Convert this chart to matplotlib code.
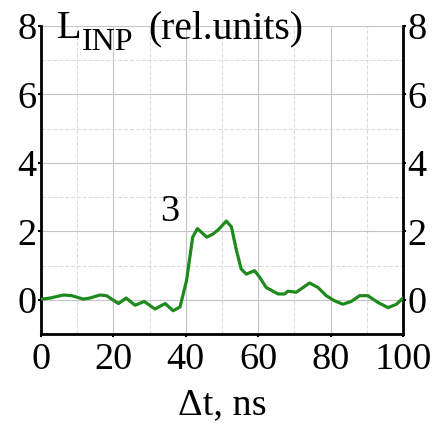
import matplotlib
matplotlib.use('Agg')
import matplotlib.pyplot as plt
from matplotlib.ticker import MultipleLocator

plt.rcParams['font.family'] = ['Liberation Serif', 'DejaVu Serif']

# signal
dt = [0.2, 2.5, 6.2, 8.5, 11.7, 13.5, 16.3, 18.1, 21.4, 23.5, 26.0, 28.5,
      31.5, 34.3, 36.5, 38.4, 40.2, 41.9, 43.2, 45.8, 47.5, 49.0, 51.2,
      52.6, 54.0, 55.3, 56.7, 59.0, 60.4, 62.2, 65.5, 67.3, 68.2, 70.5,
      74.2, 76.5, 78.8, 81.1, 83.4, 85.7, 88.0, 90.3, 93.1, 95.9, 98.2, 100.0]
lum = [0.02, 0.05, 0.14, 0.12, 0.02, 0.05, 0.14, 0.12, -0.11, 0.05, -0.16, -0.05,
       -0.27, -0.11, -0.32, -0.21, 0.56, 1.83, 2.08, 1.83, 1.92, 2.05, 2.30,
       2.13, 1.44, 0.90, 0.75, 0.85, 0.66, 0.36, 0.17, 0.17, 0.25, 0.22,
       0.49, 0.36, 0.12, -0.03, -0.13, -0.05, 0.12, 0.12, -0.08, -0.23, -0.13, 0.05]

fs = 27.5
fig = plt.figure(figsize=(4.36, 4.24), dpi=100)
ax = fig.add_axes([41 / 436, 1 - 334 / 424, 362 / 436, 308 / 424])

ax.plot(dt, lum, color='#1e8a1e', lw=2.3, zorder=3)

ax.set_xlim(0, 100)
ax.set_ylim(-1, 8)
ax.xaxis.set_major_locator(MultipleLocator(20))
ax.xaxis.set_minor_locator(MultipleLocator(10))
ax.yaxis.set_major_locator(MultipleLocator(2))
ax.yaxis.set_minor_locator(MultipleLocator(1))
ax.grid(which='major', color='#c4c4c4', lw=0.8, ls='-')
ax.grid(which='minor', color='#dcdcdc', lw=0.8, ls='--')
ax.set_axisbelow(True)

ax.spines['top'].set_visible(False)
for s in ['left', 'right', 'bottom']:
    ax.spines[s].set_linewidth(2)
    ax.spines[s].set_color('black')

ax.tick_params(which='major', direction='out', length=2, width=1.5, labelsize=fs, pad=1)
ax.tick_params(axis='x', pad=4)
ax.tick_params(which='minor', length=0)
ax.tick_params(axis='y', left=True, right=True, labelleft=True, labelright=True)

ax.set_xlabel('\u0394t, ns', fontsize=fs, labelpad=8)

# title: L with subscript INP, then units
fig.text(57 / 436, 1 - 38 / 424, 'L', fontsize=29, va='baseline', ha='left')
fig.text(82 / 436, 1 - 50 / 424, 'INP', fontsize=23, va='baseline', ha='left')
fig.text(148 / 436, 1 - 38 / 424, '(rel.units)', fontsize=28.5, va='baseline', ha='left')
ax.text(35.6, 2.56, '3', fontsize=fs, ha='center', va='center')

fig.savefig('out.png', dpi=100)
